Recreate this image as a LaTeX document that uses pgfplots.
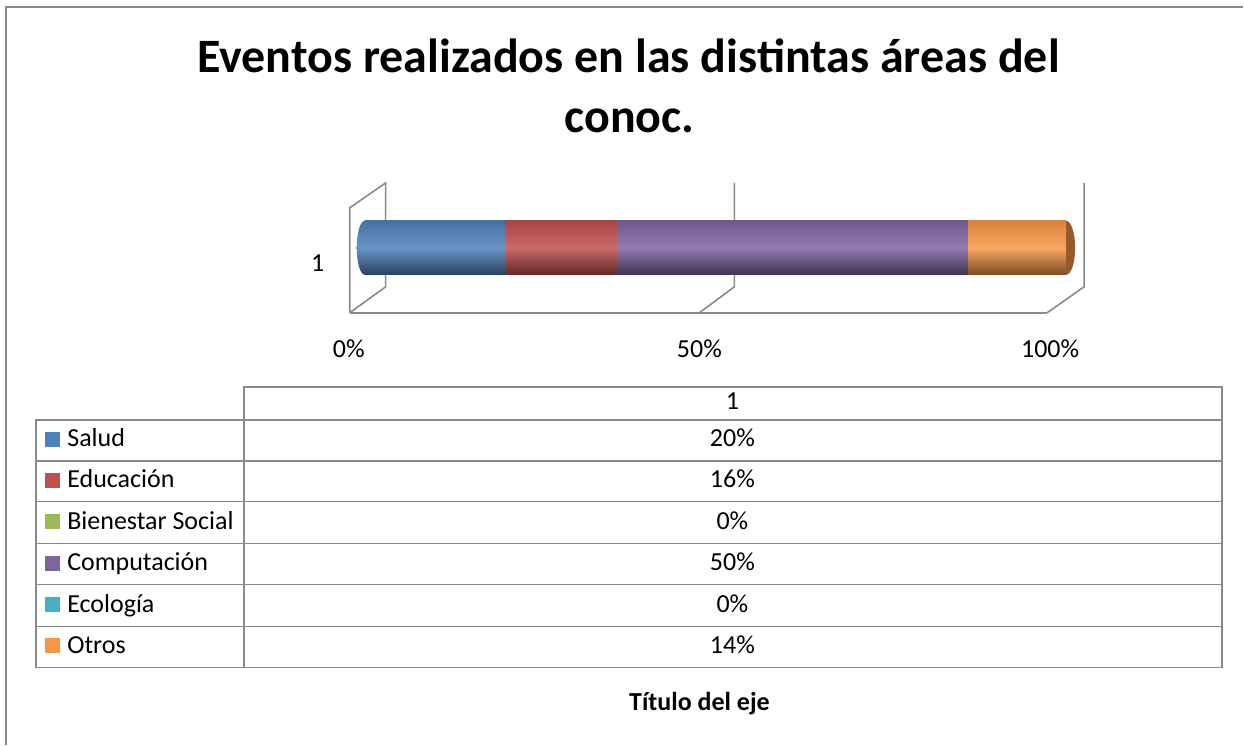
\documentclass[border=0pt]{standalone}
\usepackage{fontspec}
\setmainfont{Carlito}
\usepackage{pgfplots}
\pgfplotsset{compat=1.18}

\definecolor{cSalud}{HTML}{4F81BD}
\definecolor{cEduc}{HTML}{C0504D}
\definecolor{cBien}{HTML}{9BBB59}
\definecolor{cComp}{HTML}{8064A2}
\definecolor{cEco}{HTML}{4BACC6}
\definecolor{cOtros}{HTML}{F79646}
\definecolor{lgray}{HTML}{8A8A8A}

% cylinder-like shading for a bar
\tikzset{cyl/.style={draw=none, top color=#1!88!black, bottom color=#1!50!black, middle color=#1!85!white}}

\begin{document}
\begin{tikzpicture}
% pixel coordinates for frame, title and data table
\begin{scope}[x=0.5pt,y=-0.5pt]
\path (0,0) rectangle (1244,746);
\draw[lgray, line width=1pt] (6,746) -- (6,7) -- (1244,7);
\node[font=\fontsize{24}{30}\selectfont\bfseries, anchor=base] at (629,73) {Eventos realizados en las distintas áreas del};
\node[font=\fontsize{24}{30}\selectfont\bfseries, anchor=base] at (630,133) {conoc.};
% 3D walls and floor
\begin{scope}[lgray, line width=0.8pt]
\draw (350,313) -- (350,208) -- (386,183) -- (386,287) -- (350,313);
\draw (350,313) -- (1048,313);
\draw (700,313) -- (735,287) -- (735,183);
\draw (1048,313) -- (1085,287) -- (1085,183);
\end{scope}
\end{scope}

\begin{axis}[
  at={(182.5pt,-156.5pt)}, anchor=south west,
  scale only axis, width=351pt, height=65pt,
  xmin=0, xmax=100, ymin=0.5, ymax=1.5,
  xbar stacked, bar width=27pt,
  axis line style={draw=none}, major tick length=0pt,
  xtick={0,50,100}, xticklabels={0\%,50\%,100\%},
  ytick={1}, yticklabels={1},
  tick label style={font=\fontsize{13}{15}\selectfont},
  xticklabel style={anchor=center, xshift=-8pt, yshift=-18pt},
  yticklabel style={anchor=center, xshift=-23.5pt, yshift=-7.5pt},
  clip=false,
]
% rounded left end of the cylinder
\path[cyl=cSalud] (axis cs:0,1) ellipse [x radius=4pt, y radius=13.5pt];
\addplot[cyl=cSalud] coordinates {(20,1)};
\addplot[cyl=cEduc] coordinates {(16,1)};
\addplot[draw=none, fill=cBien] coordinates {(0,1)};
\addplot[cyl=cComp] coordinates {(50,1)};
\addplot[draw=none, fill=cEco] coordinates {(0,1)};
\addplot[cyl=cOtros] coordinates {(14,1)};
% visible right cap
\fill[cOtros!60!black] (axis cs:100,1) ellipse [x radius=4.5pt, y radius=13.5pt];
\end{axis}

\begin{scope}[x=0.5pt,y=-0.5pt]
% data table
\begin{scope}[lgray, line width=0.9pt]
\draw (244,387) rectangle (1223,668);
\draw (36,420) rectangle (244,668);
\foreach \yy in {420,461,502,544,585,627} \draw (36,\yy) -- (1223,\yy);
\end{scope}
\begin{scope}[font=\fontsize{13}{15}\selectfont]
\node[anchor=base] at (733,410) {1};
\foreach \yy/\c/\lab/\val in {440.5/cSalud/Salud/20,
                              481.5/cEduc/Educación/16,
                              523/cBien/Bienestar Social/0,
                              564.5/cComp/Computación/50,
                              606/cEco/Ecología/0,
                              647.5/cOtros/Otros/14} {
  \fill[\c] (45,\yy-8.5) rectangle (60,\yy+6.5);
  \node[anchor=base west, inner sep=0pt] at (67,\yy+6.5) {\lab};
  \node[anchor=base, inner sep=0pt] at (733,\yy+6.5) {\val\%};
}
\node[anchor=base, font=\fontsize{13}{15}\selectfont\bfseries] at (700,711) {Título del eje};
\end{scope}
\end{scope}
\end{tikzpicture}
\end{document}
